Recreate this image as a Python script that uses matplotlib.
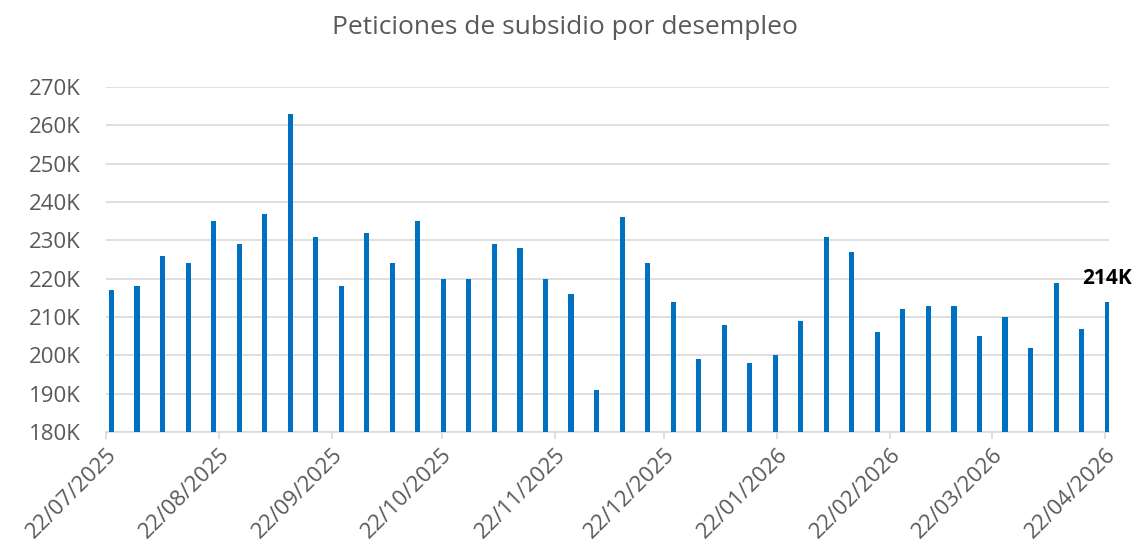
import datetime as dt

import matplotlib
matplotlib.use("Agg")
import matplotlib.pyplot as plt
import matplotlib.dates as mdates
from matplotlib.ticker import FuncFormatter, MultipleLocator

# --------------------------------------------------
# Data (weekly initial claims, thousands)
# --------------------------------------------------

start_date = dt.datetime(2025, 7, 23)
claims_k = [217, 218, 226, 224, 235, 229, 237, 263, 231, 218,
            232, 224, 235, 220, 220, 229, 228, 220, 216, 191,
            236, 224, 214, 199, 208, 198, 200, 209, 231, 227,
            206, 212, 213, 213, 205, 210, 202, 219, 207, 214]
dates = [start_date + dt.timedelta(days=7 * i) for i in range(len(claims_k))]
values = [v * 1000 for v in claims_k]

title = "Peticiones de subsidio por desempleo"
last_label = "214K"

# --------------------------------------------------
# Figure
# --------------------------------------------------

plt.rcParams["font.family"] = ["Open Sans", "DejaVu Sans"]

gray_txt = "#595959"
grid_col = "#d9d9d9"
bar_col = "#0070C0"

fig = plt.figure(figsize=(11.38, 5.45), dpi=100)
ax = fig.add_axes([106 / 1138, 1 - 432 / 545, (1109 - 106) / 1138, (432 - 87) / 545])

x = [d + dt.timedelta(hours=12) for d in dates]
ax.bar(x, values, width=1.4, color=bar_col, zorder=3)

ax.set_ylim(180000, 270000)
ax.set_xlim(dt.datetime(2025, 7, 22), dt.datetime(2026, 4, 23))

ax.yaxis.set_major_locator(MultipleLocator(10000))
ax.yaxis.set_major_formatter(FuncFormatter(lambda v, p: f"{int(v / 1000)}K"))
ax.grid(axis="y", color=grid_col, linewidth=1.2, zorder=0)

ax.xaxis.set_major_locator(mdates.MonthLocator(bymonthday=22))
ax.xaxis.set_major_formatter(mdates.DateFormatter("%d/%m/%Y"))

for s in ["top", "right", "left"]:
    ax.spines[s].set_visible(False)
ax.spines["bottom"].set_color(grid_col)
ax.spines["bottom"].set_linewidth(1.2)

ax.tick_params(axis="y", length=0, labelsize=16, labelcolor=gray_txt, pad=18)
ax.tick_params(axis="x", length=5, width=1.2, color=grid_col,
               labelsize=16, labelcolor=gray_txt, pad=4)
for lbl in ax.get_xticklabels():
    lbl.set_rotation(45)
    lbl.set_ha("right")
    lbl.set_va("top")
    lbl.set_rotation_mode("anchor")

ax.annotate(last_label, xy=(x[-1], values[-1]), xytext=(0, 13),
            textcoords="offset points", ha="center", va="baseline",
            fontsize=15, fontweight="bold", color="black")

fig.text(565 / 1138, 1 - 34.5 / 545, title, ha="center", va="baseline",
         fontsize=19, color=gray_txt)

fig.savefig("out.png", dpi=100)
